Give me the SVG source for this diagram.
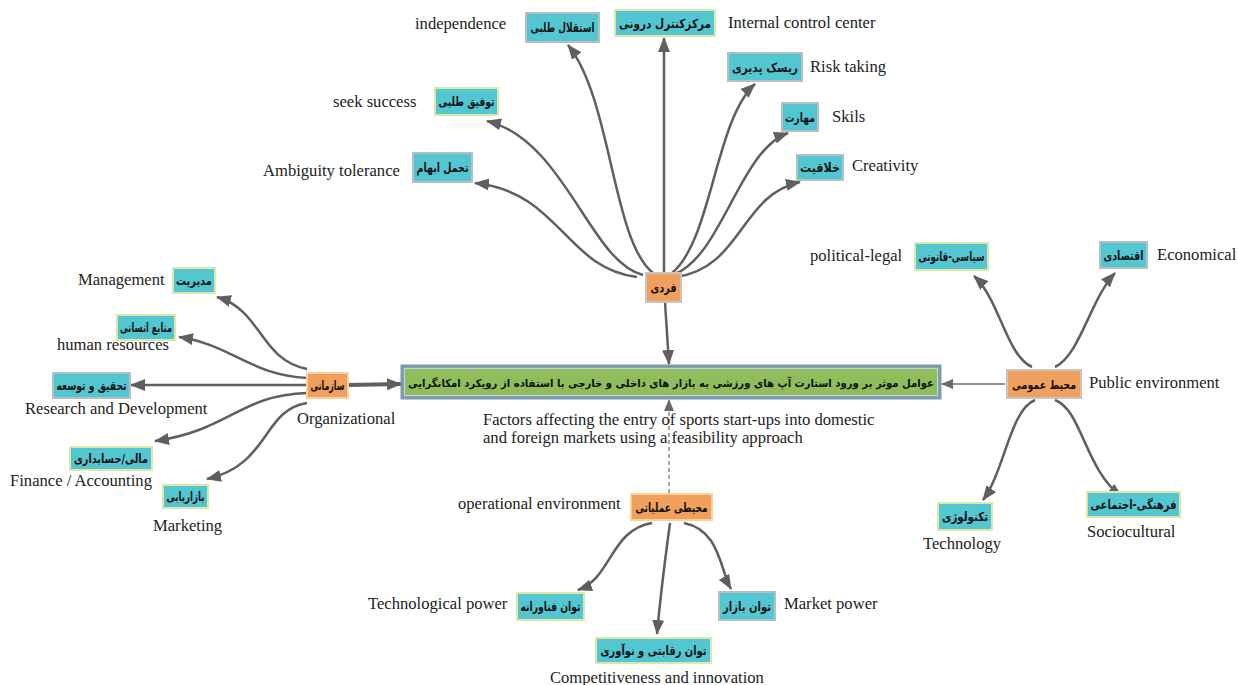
<svg xmlns="http://www.w3.org/2000/svg" width="1238" height="685" viewBox="0 0 1238 685">
<defs>
<marker id="ah" markerUnits="userSpaceOnUse" markerWidth="16" markerHeight="12" refX="14" refY="6" orient="auto">
<path d="M0,0 L15,6 L0,12 z" fill="#5f5f5f"/>
</marker>
<marker id="ahs" markerUnits="userSpaceOnUse" markerWidth="12" markerHeight="10" refX="11" refY="5" orient="auto">
<path d="M0,0 L12,5 L0,10 z" fill="#6a6a6a"/>
</marker>
<style>
.cy{fill:#52c7d1;stroke:#dfe6a6;stroke-width:2}
.cg{fill:#52c7d1;stroke:#b8bfc4;stroke-width:2}
.or{fill:#f0a05c;stroke:#f4d49c;stroke-width:2}
.og{fill:#f0a05c;stroke:#c8c4c0;stroke-width:2}
.fa{font-family:"DejaVu Sans",sans-serif;font-weight:bold;font-size:12.5px;fill:#111;text-anchor:middle}
.en{font-family:"Liberation Serif",serif;font-size:16.6px;fill:#222}
.e{fill:none;stroke:#5f5f5f;stroke-width:2.5;marker-end:url(#ah)}
</style>
</defs>
<rect width="1238" height="685" fill="#ffffff"/>

<g id="connectors">
<path class="e" d="M637,277 C565,268 560,192 475,183"/>
<path class="e" d="M643,275 C590,262 565,140 487,121"/>
<path class="e" d="M653,273 C612,240 612,100 568,45"/>
<path class="e" d="M664,272 L664,38"/>
<path class="e" d="M672,273 C712,240 715,120 755,84"/>
<path class="e" d="M675,274 C722,255 740,150 788,133"/>
<path class="e" d="M676,277 C742,268 740,195 800,182"/>
<path class="e" d="M665,302 L669,364"/>
<path class="e" d="M307,369 C260,360 262,310 217,297"/>
<path class="e" d="M307,378 C250,375 232,345 179,337"/>
<path class="e" d="M307,385 L131,385"/>
<path class="e" d="M307,393 C240,395 230,430 155,441"/>
<path class="e" d="M307,403 C262,410 270,465 207,479"/>
<path class="e" style="stroke-width:4" d="M348,385 L401,384"/>
<path class="e" d="M1032,367 C1006,355 1000,300 974,276"/>
<path class="e" d="M1055,367 C1080,355 1090,300 1115,273"/>
<path class="e" d="M1035,400 C1010,410 1005,470 983,500"/>
<path class="e" d="M1055,400 C1082,410 1085,470 1122,497"/>
<path fill="none" stroke="#6a6a6a" stroke-width="1.5" marker-end="url(#ahs)" d="M1005,384 L942,384"/>
<path fill="none" stroke="#6a6a6a" stroke-width="1.2" stroke-dasharray="4,3" marker-end="url(#ahs)" d="M669,493 L669,400"/>
<path class="e" d="M652,523 C610,530 612,578 578,590"/>
<path class="e" d="M670,523 C665,560 660,600 657,634"/>
<path class="e" d="M684,523 C720,530 720,570 731,589"/>
</g>

<g id="center">
<rect x="402" y="366" width="538" height="32" fill="#8fbd5c" stroke="#7b97ba" stroke-width="3"/>
<rect x="404.5" y="368.5" width="533" height="27" fill="none" stroke="#c3d3e4" stroke-width="1"/>
<text class="fa" x="671" y="386.5" style="font-size:11px" textLength="526" lengthAdjust="spacingAndGlyphs">عوامل موثر بر ورود استارت آپ های ورزشی به بازار های داخلی و خارجی با استفاده از رویکرد امکانگرایی</text>
<text class="en" x="483" y="425">Factors affecting the entry of sports start-ups into domestic</text>
<text class="en" x="483" y="443">and foreign markets using a feasibility approach</text>
</g>

<g id="fardi"><rect class="og" x="646" y="273" width="35" height="29"/><text class="fa" x="663.5" y="292" textLength="26" lengthAdjust="spacingAndGlyphs">فردی</text></g>
<g id="esteghlal"><rect class="cg" x="526" y="13" width="73" height="29"/><text class="fa" x="562.5" y="32" textLength="64" lengthAdjust="spacingAndGlyphs">استقلال طلبی</text><text class="en" x="415" y="29">independence</text></g>
<g id="markaz"><rect class="cy" x="615" y="10" width="100" height="26"/><text class="fa" x="665" y="28" textLength="92" lengthAdjust="spacingAndGlyphs">مرکزکنترل درونی</text><text class="en" x="728" y="28">Internal control center</text></g>
<g id="risk"><rect class="cg" x="728" y="53" width="74" height="28"/><text class="fa" x="765" y="72" textLength="66" lengthAdjust="spacingAndGlyphs">ریسک پدیری</text><text class="en" x="810" y="72">Risk taking</text></g>
<g id="maharat"><rect class="cg" x="782" y="103" width="36" height="28"/><text class="fa" x="800" y="122" textLength="30" lengthAdjust="spacingAndGlyphs">مهارت</text><text class="en" x="832" y="122">Skils</text></g>
<g id="khalaghiat"><rect class="cg" x="797" y="155" width="46" height="25"/><text class="fa" x="820" y="172" textLength="40" lengthAdjust="spacingAndGlyphs">خلاقیت</text><text class="en" x="852" y="171">Creativity</text></g>
<g id="tofigh"><rect class="cy" x="435" y="88" width="63" height="27"/><text class="fa" x="466.5" y="106" textLength="56" lengthAdjust="spacingAndGlyphs">توفیق طلبی</text><text class="en" x="333" y="107">seek success</text></g>
<g id="tahamol"><rect class="cg" x="413" y="153" width="59" height="29"/><text class="fa" x="442.5" y="172" textLength="52" lengthAdjust="spacingAndGlyphs">تحمل ابهام</text><text class="en" x="263" y="176">Ambiguity tolerance</text></g>

<g id="sazmani"><rect class="or" x="307" y="373" width="41" height="25"/><text class="fa" x="327.5" y="390" textLength="34" lengthAdjust="spacingAndGlyphs">سازمانی</text><text class="en" x="297" y="424">Organizational</text></g>
<g id="modiriat"><rect class="cy" x="173" y="268" width="42" height="25"/><text class="fa" x="194" y="285" textLength="36" lengthAdjust="spacingAndGlyphs">مدیریت</text><text class="en" x="78" y="285">Management</text></g>
<g id="manabe"><rect class="cy" x="117" y="315" width="58" height="25"/><text class="fa" x="146" y="332" textLength="52" lengthAdjust="spacingAndGlyphs">منابع انسانی</text><text class="en" x="57" y="350">human resources</text></g>
<g id="tahghigh"><rect class="cg" x="53" y="373" width="77" height="25"/><text class="fa" x="91.5" y="390" textLength="70" lengthAdjust="spacingAndGlyphs">تحقیق و توسعه</text><text class="en" x="25" y="414">Research and Development</text></g>
<g id="mali"><rect class="cy" x="70" y="447" width="82" height="23"/><text class="fa" x="111" y="463" textLength="74" lengthAdjust="spacingAndGlyphs">مالی/حسابداری</text><text class="en" x="10" y="486">Finance / Accounting</text></g>
<g id="bazaryabi"><rect class="cy" x="163" y="485" width="45" height="23"/><text class="fa" x="185.5" y="501" textLength="38" lengthAdjust="spacingAndGlyphs">بازاریابی</text><text class="en" x="153" y="531">Marketing</text></g>

<g id="omoomi"><rect class="og" x="1007" y="370" width="74" height="28"/><text class="fa" x="1044" y="389" style="font-size:11.5px" textLength="64" lengthAdjust="spacingAndGlyphs">محیط عمومی</text><text class="en" x="1089" y="388">Public environment</text></g>
<g id="siasi"><rect class="cy" x="915" y="243" width="73" height="27"/><text class="fa" x="951.5" y="261" textLength="66" lengthAdjust="spacingAndGlyphs">سیاسی-قانونی</text><text class="en" x="810" y="261">political-legal</text></g>
<g id="eghtesadi"><rect class="cg" x="1100" y="242" width="47" height="26"/><text class="fa" x="1123.5" y="260" textLength="40" lengthAdjust="spacingAndGlyphs">اقتصادی</text><text class="en" x="1157" y="260">Economical</text></g>
<g id="technology"><rect class="cy" x="938" y="503" width="54" height="27"/><text class="fa" x="965" y="521" textLength="46" lengthAdjust="spacingAndGlyphs">تکنولوژی</text><text class="en" x="923" y="549">Technology</text></g>
<g id="farhangi"><rect class="cy" x="1087" y="492" width="93" height="25"/><text class="fa" x="1133.5" y="509" textLength="86" lengthAdjust="spacingAndGlyphs">فرهنگی-اجتماعی</text><text class="en" x="1087" y="537">Sociocultural</text></g>

<g id="amaliati"><rect class="or" x="631" y="494" width="81" height="26"/><text class="fa" x="671.5" y="512" textLength="72" lengthAdjust="spacingAndGlyphs">محیطی عملیاتی</text><text class="en" x="458" y="509">operational environment</text></g>
<g id="fanavarane"><rect class="cy" x="517" y="593" width="67" height="27"/><text class="fa" x="550.5" y="611" textLength="60" lengthAdjust="spacingAndGlyphs">توان فناورانه</text><text class="en" x="368" y="609">Technological power</text></g>
<g id="reghabati"><rect class="cy" x="596" y="638" width="115" height="25"/><text class="fa" x="653.5" y="655" textLength="106" lengthAdjust="spacingAndGlyphs">توان رقابتی و نوآوری</text><text class="en" x="550" y="683">Competitiveness and innovation</text></g>
<g id="bazar"><rect class="cg" x="719" y="592" width="56" height="28"/><text class="fa" x="747" y="611" textLength="48" lengthAdjust="spacingAndGlyphs">توان بازار</text><text class="en" x="784" y="609">Market power</text></g>
</svg>
